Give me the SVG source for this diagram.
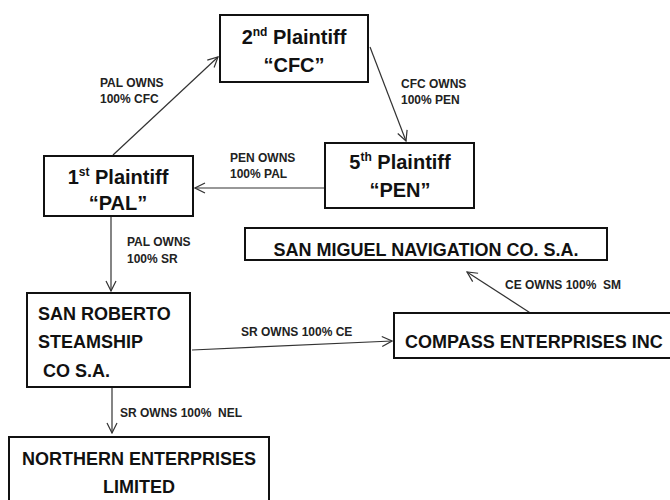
<svg xmlns="http://www.w3.org/2000/svg" width="670" height="500" viewBox="0 0 670 500">
<style>
.box{fill:#fff;stroke:#111;stroke-width:2}
.t{font-family:"Liberation Sans",Arial,sans-serif;font-weight:bold;fill:#111}
.big{font-size:20px}
.mid{font-size:18px}
.lbl{font-family:"Liberation Sans",Arial,sans-serif;font-weight:bold;font-size:12px;fill:#222}
.c{fill:none;stroke:#333;stroke-width:1.2}
</style>
<defs>
<marker id="ah" viewBox="0 0 12 12" markerWidth="12" markerHeight="12" refX="11" refY="6" orient="auto" markerUnits="userSpaceOnUse">
<path d="M1,1 L11,6 L1,11" fill="none" stroke="#333" stroke-width="1.2"/>
</marker>
</defs>
<rect width="670" height="500" fill="#fff"/>
<g id="connectors">
<line class="c" x1="113" y1="155" x2="218" y2="57" marker-end="url(#ah)"/>
<line class="c" x1="370" y1="47" x2="406" y2="141" marker-end="url(#ah)"/>
<line class="c" x1="325" y1="188" x2="195" y2="188" marker-end="url(#ah)"/>
<line class="c" x1="111" y1="217" x2="111" y2="291" marker-end="url(#ah)"/>
<line class="c" x1="192" y1="350" x2="392" y2="341" marker-end="url(#ah)"/>
<line class="c" x1="535" y1="316" x2="467" y2="272" marker-end="url(#ah)"/>
<line class="c" x1="112" y1="388" x2="112" y2="433" marker-end="url(#ah)"/>
<text class="lbl" x="100" y="87">PAL OWNS</text>
<text class="lbl" x="100" y="103">100% CFC</text>
<text class="lbl" x="401" y="88">CFC OWNS</text>
<text class="lbl" x="401" y="104">100% PEN</text>
<text class="lbl" x="230" y="162">PEN OWNS</text>
<text class="lbl" x="230" y="178">100% PAL</text>
<text class="lbl" x="127" y="246">PAL OWNS</text>
<text class="lbl" x="127" y="263">100% SR</text>
<text class="lbl" x="241" y="336">SR OWNS 100% CE</text>
<text class="lbl" x="505" y="289" xml:space="preserve">CE OWNS 100%  SM</text>
<text class="lbl" x="120" y="417" xml:space="preserve">SR OWNS 100%  NEL</text>
</g>
<g id="cfc">
<rect class="box" x="220" y="15" width="148" height="67"/>
<text class="t big" x="294" y="44" text-anchor="middle">2<tspan font-size="12" dy="-8">nd</tspan><tspan dy="8"> Plaintiff</tspan></text>
<text class="t big" x="294" y="72" text-anchor="middle">“CFC”</text>
</g>
<g id="pal">
<rect class="box" x="44" y="156" width="149" height="60"/>
<text class="t big" x="118" y="184" text-anchor="middle">1<tspan font-size="12" dy="-8">st</tspan><tspan dy="8"> Plaintiff</tspan></text>
<text class="t big" x="118" y="210" text-anchor="middle">“PAL”</text>
</g>
<g id="pen">
<rect class="box" x="325" y="143" width="149" height="65"/>
<text class="t big" x="400" y="169" text-anchor="middle">5<tspan font-size="12" dy="-8">th</tspan><tspan dy="8"> Plaintiff</tspan></text>
<text class="t big" x="400" y="197" text-anchor="middle">“PEN”</text>
</g>
<g id="sanmiguel">
<rect class="box" x="245" y="228" width="362" height="32"/>
<text class="t mid" x="426" y="256" text-anchor="middle" font-size="19">SAN MIGUEL NAVIGATION CO. S.A.</text>
</g>
<g id="compass">
<rect class="box" x="394" y="313" width="280" height="45"/>
<text class="t mid" x="405" y="348">COMPASS ENTERPRISES INC</text>
</g>
<g id="sanroberto">
<rect class="box" x="27" y="293" width="163" height="94"/>
<text class="t mid" x="38" y="320">SAN ROBERTO</text>
<text class="t mid" x="38" y="348">STEAMSHIP</text>
<text class="t mid" x="43" y="377">CO S.A.</text>
</g>
<g id="northern">
<rect class="box" x="9" y="437" width="260" height="80"/>
<text class="t mid" x="139" y="465" text-anchor="middle">NORTHERN ENTERPRISES</text>
<text class="t mid" x="139" y="493" text-anchor="middle">LIMITED</text>
</g>
</svg>
